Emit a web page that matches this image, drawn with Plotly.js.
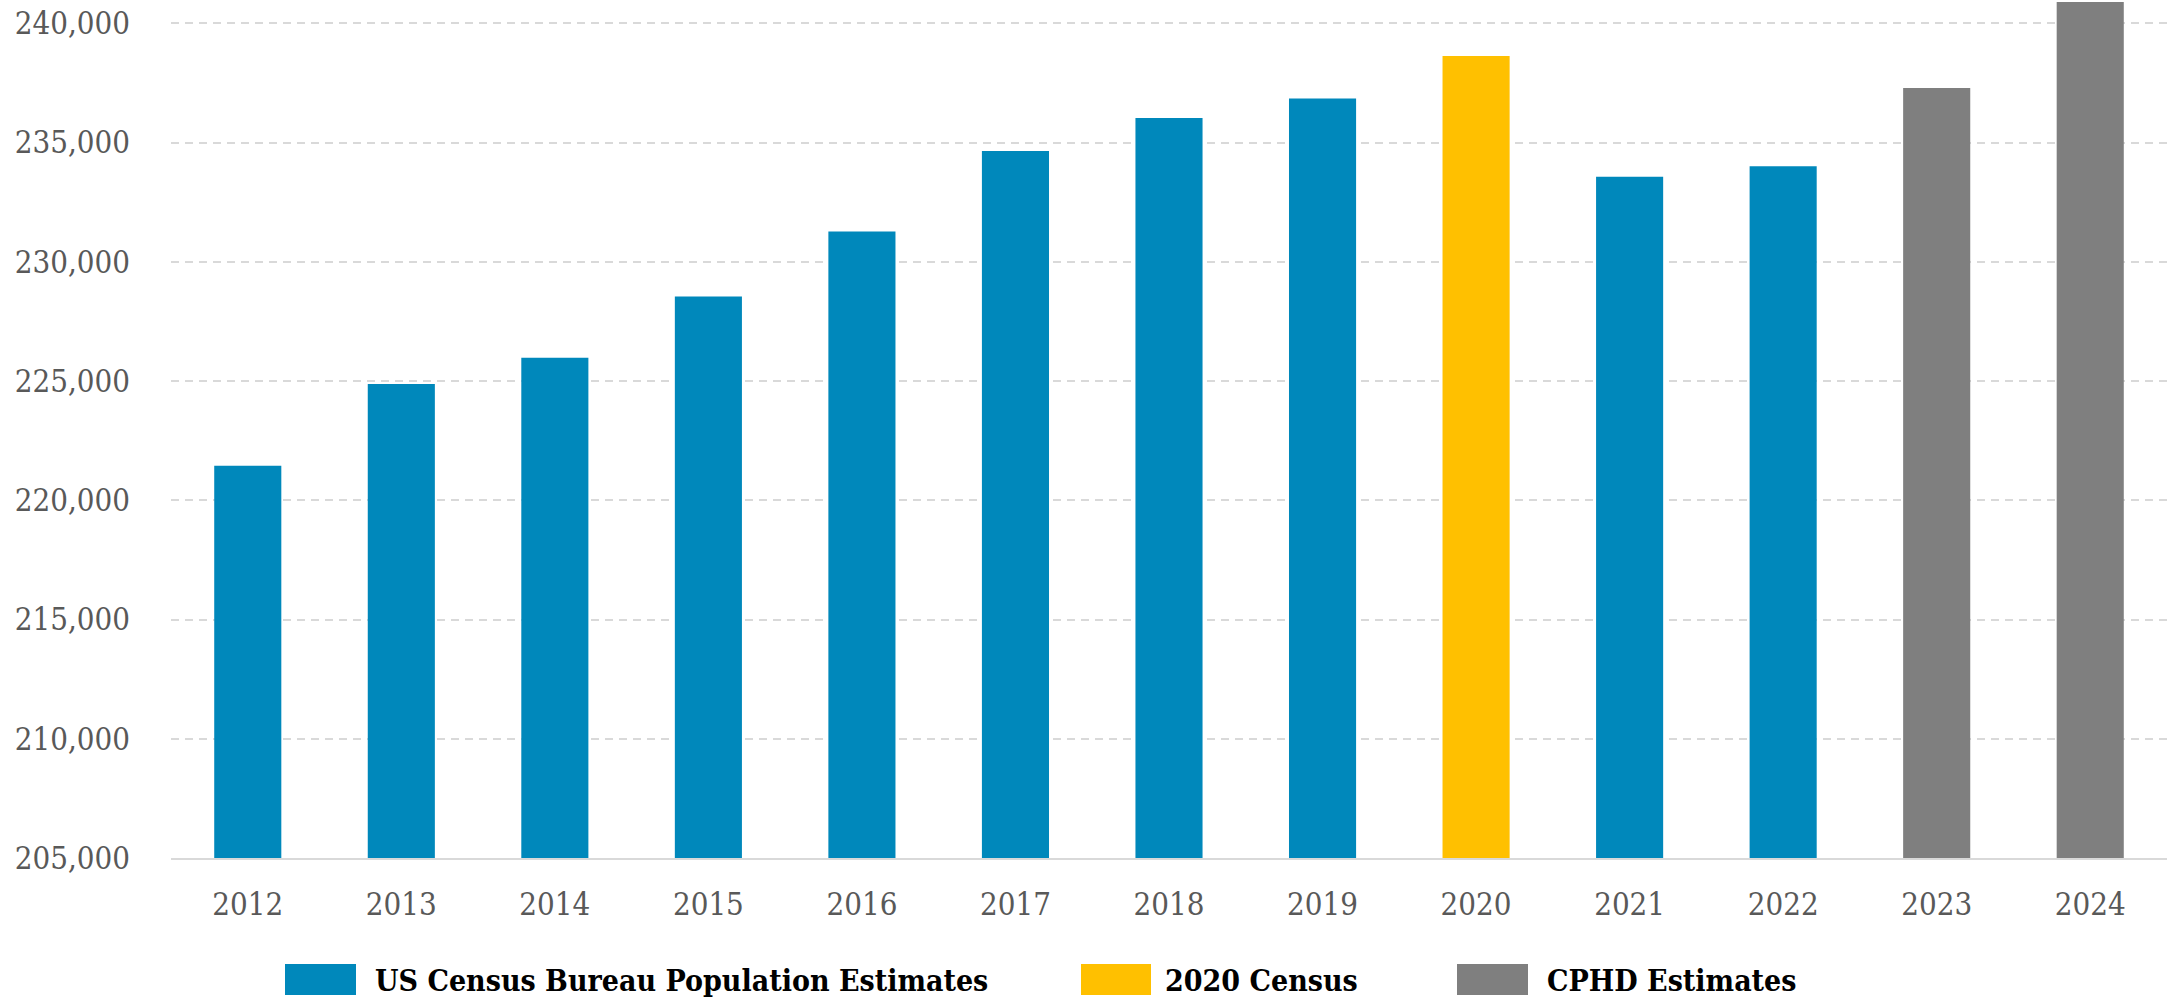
<!DOCTYPE html>
<html>
<head>
<meta charset="utf-8">
<script src="https://cdn.plot.ly/plotly-3.0.1.min.js"></script>
<style>
  html, body { margin: 0; padding: 0; background: #ffffff; }
  #chart { width: 2175px; height: 997px; }
</style>
</head>
<body>
<div id="chart"></div>
<script>
const years = ["2012","2013","2014","2015","2016","2017","2018","2019","2020","2021","2022","2023","2024"];
const censusEstYears = ["2012","2013","2014","2015","2016","2017","2018","2019","2021","2022"];
const censusEstValues = [221445, 224880, 225976, 228548, 231274, 234644, 236026, 236843, 233567, 234003];
const census2020Years = ["2020"];
const census2020Values = [238624];
const cphdYears = ["2023","2024"];
const cphdValues = [237290, 240892];
const seriesNames = ["US Census Bureau Population Estimates", "2020 Census", "CPHD Estimates"];
const seriesColors = ["#0088bb", "#ffc000", "#7f7f7f"];
const yTickVals = [205000, 210000, 215000, 220000, 225000, 230000, 235000, 240000];

const FONT = "'Roboto Slab', 'DejaVu Serif Condensed', 'DejaVu Serif', serif";

const traces = [
  {type: "bar", x: censusEstYears, y: censusEstValues, name: seriesNames[0], marker: {color: seriesColors[0]}},
  {type: "bar", x: census2020Years, y: census2020Values, name: seriesNames[1], marker: {color: seriesColors[1]}},
  {type: "bar", x: cphdYears, y: cphdValues, name: seriesNames[2], marker: {color: seriesColors[2]}}
];

// plot area in px
const L = 171, R = 2167, T = 0, B = 858;
const W = R - L, H = B - T;
const px = v => (v - L) / W;
const py = v => (B - v) / H;

// custom legend (swatches + labels)
const legendItems = [
  {x0: 285, x1: 356, tx: 373},
  {x0: 1081, x1: 1151, tx: 1163},
  {x0: 1457, x1: 1528, tx: 1545}
];
const shapes = legendItems.map((it, i) => ({
  type: "rect", xref: "paper", yref: "paper",
  x0: px(it.x0), x1: px(it.x1), y0: py(964), y1: py(995),
  fillcolor: seriesColors[i], line: {width: 0}
}));
const annotations = legendItems.map((it, i) => ({
  xref: "paper", yref: "paper", x: px(it.tx), y: py(980),
  xanchor: "left", yanchor: "middle", showarrow: false,
  text: "<b>" + seriesNames[i] + "</b>",
  font: {family: FONT, size: 30, color: "#000000"}
}));

const layout = {
  width: 2175, height: 997,
  margin: {l: L, r: 2175 - R, t: T, b: 997 - B, pad: 0},
  paper_bgcolor: "#ffffff", plot_bgcolor: "#ffffff",
  barmode: "overlay", bargap: 0.563,
  showlegend: false,
  xaxis: {
    type: "category", categoryorder: "array", categoryarray: years,
    tickvals: years, ticktext: years,
    showgrid: false, showline: true, linecolor: "#d9d9d9", linewidth: 2,
    ticks: "", ticklabelstandoff: 18,
    tickfont: {family: FONT, size: 31, color: "#595959"},
    fixedrange: true
  },
  yaxis: {
    range: [205000, 240976],
    tickvals: yTickVals,
    ticktext: yTickVals.map(v => v.toLocaleString("en-US")),
    showgrid: true, gridcolor: "#d9d9d9", gridwidth: 2, griddash: "8px,6px",
    zeroline: false, showline: false, ticks: "", ticklabelstandoff: 40,
    tickfont: {family: FONT, size: 31, color: "#595959"},
    fixedrange: true
  },
  shapes: shapes,
  annotations: annotations
};

Plotly.newPlot("chart", traces, layout, {staticPlot: true, displayModeBar: false});
</script>
</body>
</html>
